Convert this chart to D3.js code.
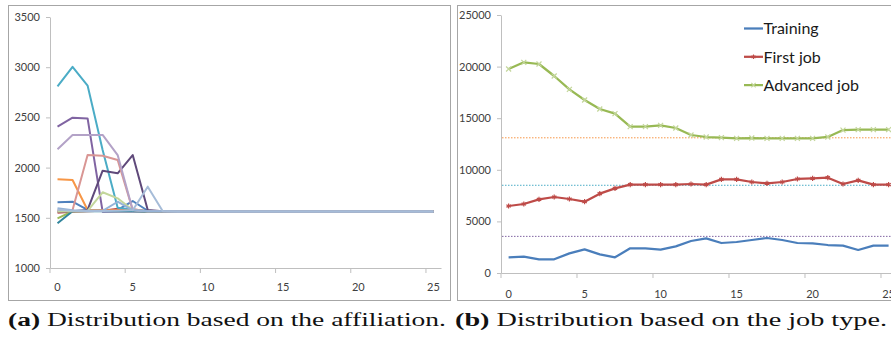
<!DOCTYPE html>
<html>
<head>
<meta charset="utf-8">
<script src="https://cdn.jsdelivr.net/npm/d3@7"></script>
<style>
  body { margin: 0; background: #fff; }
  .tick text { font-family: Lato, "Liberation Sans", sans-serif; font-size: 11px; fill: #404040; }
  .domain, .tick line { stroke: #bfbfbf; }
</style>
</head>
<body>
<svg id="fig" width="891" height="339"></svg>
<script>
// panel (a): one series per affiliation
var cats = d3.range(26);
var xTicks = [0, 5, 10, 15, 20, 25];
var yTicksA = [1000, 1500, 2000, 2500, 3000, 3500];
var yTicksB = [0, 5000, 10000, 15000, 20000, 25000];

var affBlue      = [1654,1660,1578,1575,1578,1667,1570,1565,1563,1562,1562,1562,1562,1562,1562,1562,1562,1562,1562,1562,1562,1562,1562,1562,1562,1562];
var affRed       = [1551,1560,1565,1570,1590,1585,1565,1562,1562,1562,1562,1562,1562,1562,1562,1562,1564,1564,1562,1562,1562,1562,1562,1562,1562,1562];
var affGreen     = [1495,1565,1568,1568,1566,1565,1563,1562,1562,1562,1562,1562,1562,1562,1562,1562,1562,1562,1562,1562,1562,1562,1562,1562,1562,1562];
var affPurple    = [2408,2497,2490,1561,1562,1563,1562,1562,1562,1562,1562,1562,1562,1562,1562,1562,1562,1562,1562,1562,1562,1562,1562,1562,1562,1562];
var affAqua      = [2808,3004,2817,2175,1600,1580,1566,1564,1563,1562,1562,1562,1562,1562,1562,1562,1562,1562,1562,1562,1562,1562,1562,1562,1562,1562];
var affOrange    = [1883,1876,1578,1575,1575,1570,1566,1564,1563,1564,1563,1562,1562,1562,1562,1562,1562,1562,1562,1562,1562,1564,1564,1562,1562,1564];
var affDarkTeal  = [1445,1565,1568,1566,1565,1564,1563,1562,1562,1562,1562,1562,1562,1562,1562,1562,1562,1562,1562,1562,1562,1562,1562,1562,1562,1562];
var affDarkPurp  = [1562,1565,1578,1969,1943,2125,1578,1565,1563,1562,1562,1562,1562,1562,1562,1562,1562,1562,1562,1562,1562,1562,1562,1562,1562,1562];
var affSalmon    = [1575,1578,2125,2118,2076,1578,1566,1564,1563,1562,1562,1562,1562,1562,1562,1562,1562,1562,1562,1562,1562,1562,1562,1562,1562,1562];
var affLtGreen   = [1562,1565,1568,1754,1694,1578,1566,1564,1563,1562,1562,1562,1562,1562,1562,1562,1562,1562,1562,1562,1562,1562,1562,1562,1562,1562];
var affLavender  = [2183,2325,2325,2325,2125,1578,1566,1564,1563,1562,1562,1562,1562,1562,1562,1562,1562,1562,1562,1562,1562,1562,1562,1562,1562,1562];
var affLtBlue    = [1594,1575,1570,1570,1660,1575,1566,1564,1563,1562,1562,1562,1562,1562,1562,1562,1562,1562,1562,1562,1562,1562,1562,1562,1562,1562];
var affPaleBlue  = [1580,1570,1568,1568,1570,1575,1810,1566,1563,1562,1562,1562,1562,1562,1562,1562,1562,1562,1562,1562,1562,1562,1562,1562,1562,1562];

var affSeries = [
  { vals: affBlue, color: '#4f81bd' },
  { vals: affRed, color: '#c0504d' },
  { vals: affGreen, color: '#9bbb59' },
  { vals: affPurple, color: '#8064a2' },
  { vals: affAqua, color: '#4bacc6' },
  { vals: affOrange, color: '#f79646' },
  { vals: affDarkTeal, color: '#31859c' },
  { vals: affDarkPurp, color: '#5f497a' },
  { vals: affSalmon, color: '#d99694' },
  { vals: affLtGreen, color: '#c3d69b' },
  { vals: affLavender, color: '#b3a2c7' },
  { vals: affLtBlue, color: '#95b3d7' },
  { vals: affPaleBlue, color: '#a6bcd8' }
];

// panel (b): job types
var jobNames = ['Training', 'First job', 'Advanced job'];
var training = [1518,1583,1325,1325,1906,2293,1809,1518,2390,2390,2261,2584,3101,3359,2907,3004,3198,3391,3198,2907,2875,2713,2649,2229,2649,2649];
var firstJob = [6492,6686,7138,7364,7170,6912,7687,8204,8560,8560,8560,8560,8624,8560,9077,9077,8818,8689,8818,9109,9173,9238,8624,8980,8560,8560];
var advancedJob = [19767,20413,20252,19089,17796,16763,15891,15439,14180,14180,14310,14050,13372,13178,13114,13049,13080,13049,13049,13049,13049,13180,13850,13900,13900,13900];
var refLevels = [13100, 8500, 3550];

var svg = d3.select('#fig');
var plain = d3.format('d');

// panel frames
svg.append('rect').attr('x', 8.5).attr('y', 5.5).attr('width', 442).attr('height', 295)
  .attr('fill', 'none').attr('stroke', '#a6a6a6');
svg.append('rect').attr('x', 457.5).attr('y', 5.5).attr('width', 460).attr('height', 295)
  .attr('fill', 'none').attr('stroke', '#a6a6a6');

function drawXAxis(g, x, y0, pad) {
  var ax = g.append('g').attr('transform', 'translate(0,' + y0 + ')')
    .call(d3.axisBottom(x).tickValues(xTicks).tickSize(5).tickSizeOuter(0).tickPadding(pad));
  // excel style: tick marks sit between categories
  ax.selectAll('.tick line').attr('x1', -x.bandwidth() / 2).attr('x2', -x.bandwidth() / 2);
  return ax;
}

// ---- panel (a)
var xA = d3.scaleBand().domain(cats).range([50, 441]);
var yA = d3.scaleLinear().domain([1000, 3500]).range([268, 17]);
var gA = svg.append('g');

gA.append('g').attr('transform', 'translate(50,0)')
  .call(d3.axisLeft(yA).tickValues(yTicksA).tickFormat(plain).tickSize(4).tickSizeOuter(0).tickPadding(6));
drawXAxis(gA, xA, 268, 10);

var lineA = d3.line()
  .x(function(d, i) { return xA(i) + xA.bandwidth() / 2; })
  .y(function(d) { return yA(d); });

gA.selectAll('path.aff')
  .data(affSeries)
  .enter()
  .append('path')
  .attr('class', 'aff')
  .attr('d', function(s) { return lineA(s.vals); })
  .attr('fill', 'none')
  .attr('stroke', function(s) { return s.color; })
  .attr('stroke-width', 2)
  .attr('stroke-linejoin', 'round');

// ---- panel (b)
var xB = d3.scaleBand().domain(cats).range([501, 501 + 26 * 15.2]);
var yB = d3.scaleLinear().domain([0, 25000]).range([273, 15]);
var gB = svg.append('g');

gB.append('g').attr('transform', 'translate(501,0)')
  .call(d3.axisLeft(yB).tickValues(yTicksB).tickFormat(plain).tickSize(4).tickSizeOuter(0).tickPadding(6));
drawXAxis(gB, xB, 273, 12);

var refColors = ['#f79646', '#4bacc6', '#8064a2'];
gB.selectAll('line.ref')
  .data(refLevels)
  .enter()
  .append('line')
  .attr('class', 'ref')
  .attr('x1', 502).attr('x2', 891)
  .attr('y1', function(d) { return yB(d); })
  .attr('y2', function(d) { return yB(d); })
  .attr('stroke', function(d, i) { return refColors[i]; })
  .attr('stroke-width', 1)
  .attr('stroke-dasharray', '1.5,1.5');

var lineB = d3.line()
  .x(function(d, i) { return xB(i) + xB.bandwidth() / 2; })
  .y(function(d) { return yB(d); });

var jobSeries = [
  { name: jobNames[0], vals: training, color: '#4a7ebb', mark: null },
  { name: jobNames[1], vals: firstJob, color: '#be4b48', mark: d3.symbolAsterisk, markColor: '#be4b48' },
  { name: jobNames[2], vals: advancedJob, color: '#98b954', mark: d3.symbolTimes, markColor: '#c3d69b' }
];

jobSeries.forEach(function(s) {
  gB.append('path')
    .attr('d', lineB(s.vals))
    .attr('fill', 'none')
    .attr('stroke', s.color)
    .attr('stroke-width', 2.25)
    .attr('stroke-linejoin', 'round');
  if (s.mark) {
    gB.selectAll(null)
      .data(s.vals)
      .enter()
      .append('path')
      .attr('d', d3.symbol(s.mark, 18))
      .attr('transform', function(d, i) {
        return 'translate(' + (xB(i) + xB.bandwidth() / 2) + ',' + yB(d) + ')';
      })
      .attr('fill', 'none')
      .attr('stroke', s.markColor)
      .attr('stroke-width', 1.2);
  }
});

// legend
var leg = gB.selectAll('g.leg')
  .data(jobSeries)
  .enter()
  .append('g')
  .attr('class', 'leg')
  .attr('transform', function(d, i) { return 'translate(744,' + (28.5 + i * 28.3) + ')'; });
leg.append('line').attr('x1', 0).attr('x2', 19)
  .attr('stroke', function(d) { return d.color; }).attr('stroke-width', 2.25);
leg.filter(function(d) { return d.mark; })
  .append('path')
  .attr('d', function(d) { return d3.symbol(d.mark, 14)(); })
  .attr('transform', 'translate(9.5,0)')
  .attr('fill', 'none')
  .attr('stroke', function(d) { return d.markColor; })
  .attr('stroke-width', 1.1);
leg.append('text')
  .attr('x', 19.5).attr('dy', '0.36em')
  .style('font-family', 'Lato, "Liberation Sans", sans-serif')
  .style('font-size', '16px')
  .attr('fill', '#1a1a1a')
  .text(function(d) { return d.name; });

// captions
var captions = [
  { tag: '(a)', text: ' Distribution based on the affiliation.', x: 8, w: 438 },
  { tag: '(b)', text: ' Distribution based on the job type.', x: 455, w: 432 }
];
var cap = svg.selectAll('text.cap')
  .data(captions)
  .enter()
  .append('text')
  .attr('class', 'cap')
  .attr('x', function(d) { return d.x; })
  .attr('y', 326)
  .attr('textLength', function(d) { return d.w; })
  .attr('lengthAdjust', 'spacingAndGlyphs')
  .style('font-family', '"Liberation Serif", serif')
  .style('font-size', '18px')
  .attr('fill', '#111');
cap.append('tspan').style('font-weight', 'bold').text(function(d) { return d.tag; });
cap.append('tspan').text(function(d) { return d.text; });
</script>
</body>
</html>
